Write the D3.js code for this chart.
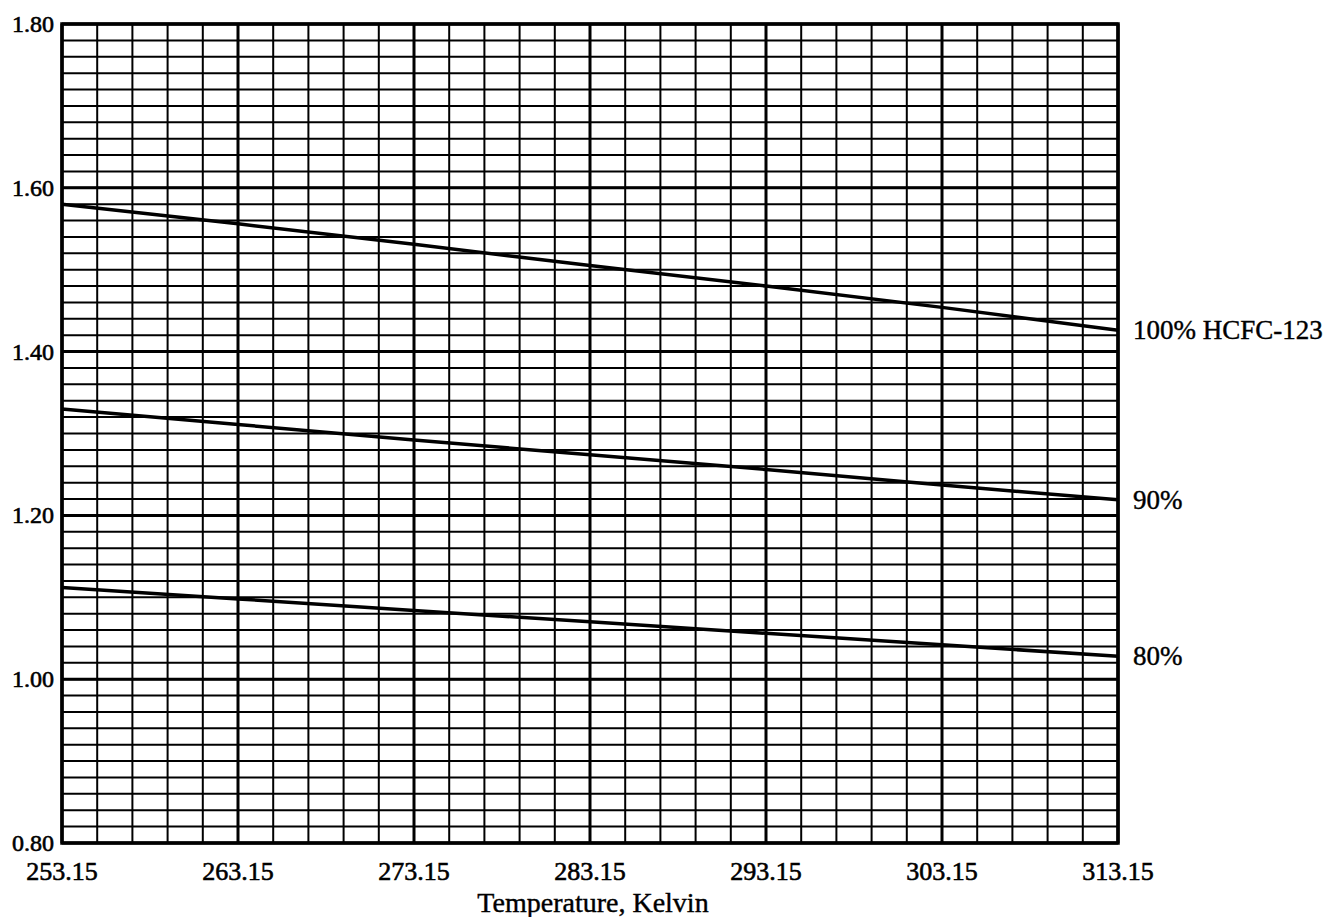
<!DOCTYPE html>
<html>
<head>
<meta charset="utf-8">
<script src="https://cdn.jsdelivr.net/npm/d3@7"></script>
<style>
  html, body { margin: 0; padding: 0; background: #fff; }
  svg { display: block; }
  text { font-family: "Liberation Serif", "DejaVu Serif", serif; fill: #000; }
</style>
</head>
<body>
<svg id="chart" width="1337" height="917"></svg>
<script>
// ---- data ----
const temperatures = [253.15, 263.15, 273.15, 283.15, 293.15, 303.15, 313.15];
const xTickLabels = ["253.15", "263.15", "273.15", "283.15", "293.15", "303.15", "313.15"];
const yTickValues = [0.80, 1.00, 1.20, 1.40, 1.60, 1.80];
const yTickLabels = ["0.80", "1.00", "1.20", "1.40", "1.60", "1.80"];
const seriesNames = ["100% HCFC-123", "90%", "80%"];
const series100 = [1.580, 1.556, 1.531, 1.505, 1.480, 1.454, 1.426];
const series90  = [1.330, 1.311, 1.292, 1.274, 1.256, 1.237, 1.219];
const series80  = [1.112, 1.098, 1.084, 1.070, 1.056, 1.042, 1.028];
const xAxisTitle = "Temperature, Kelvin";

// ---- layout ----
const svg = d3.select("#chart");
const pLeft = 62, pRight = 1118, pTop = 24, pBottom = 843;
const x = d3.scaleLinear().domain([253.15, 313.15]).range([pLeft, pRight]);
const y = d3.scaleLinear().domain([0.80, 1.80]).range([pBottom, pTop]);

const g = svg.append("g");

// minor grid: every 2 K and every 0.02
const xMinor = d3.range(0, 31).map(i => 253.15 + i * 2);
const yMinor = d3.range(0, 51).map(i => 0.80 + i * 0.02);

g.selectAll("line.vminor").data(xMinor).enter().append("line")
  .attr("x1", d => x(d)).attr("x2", d => x(d))
  .attr("y1", pTop).attr("y2", pBottom)
  .attr("stroke", "#000").attr("stroke-width", 2);

g.selectAll("line.hminor").data(yMinor).enter().append("line")
  .attr("x1", pLeft).attr("x2", pRight)
  .attr("y1", d => y(d)).attr("y2", d => y(d))
  .attr("stroke", "#000").attr("stroke-width", 2);

// major grid
g.selectAll("line.vmajor").data(temperatures).enter().append("line")
  .attr("x1", d => x(d)).attr("x2", d => x(d))
  .attr("y1", pTop).attr("y2", pBottom)
  .attr("stroke", "#000").attr("stroke-width", 3);

g.selectAll("line.hmajor").data(yTickValues).enter().append("line")
  .attr("x1", pLeft).attr("x2", pRight)
  .attr("y1", d => y(d)).attr("y2", d => y(d))
  .attr("stroke", "#000").attr("stroke-width", 3);

// border
g.append("rect")
  .attr("x", pLeft).attr("y", pTop)
  .attr("width", pRight - pLeft).attr("height", pBottom - pTop)
  .attr("fill", "none").attr("stroke", "#000").attr("stroke-width", 3.5);

// series lines
const allSeries = [series100, series90, series80];
const line = d3.line().x((d, i) => x(temperatures[i])).y(d => y(d));
g.selectAll("path.series").data(allSeries).enter().append("path")
  .attr("d", d => line(d))
  .attr("fill", "none").attr("stroke", "#000").attr("stroke-width", 3.5);

// series labels
g.selectAll("text.slabel").data(allSeries).enter().append("text")
  .attr("x", pRight + 15)
  .attr("y", d => y(d[d.length - 1]) + 9)
  .attr("font-size", 27)
  .attr("stroke", "#000").attr("stroke-width", 0.4)
  .text((d, i) => seriesNames[i]);

// y axis labels
g.selectAll("text.ytick").data(yTickValues).enter().append("text")
  .attr("x", pLeft - 8)
  .attr("y", d => y(d) + 8)
  .attr("text-anchor", "end")
  .attr("font-size", 24)
  .attr("stroke", "#000").attr("stroke-width", 0.6)
  .text((d, i) => yTickLabels[i]);

// x axis labels
g.selectAll("text.xtick").data(temperatures).enter().append("text")
  .attr("x", d => x(d))
  .attr("y", pBottom + 37)
  .attr("text-anchor", "middle")
  .attr("font-size", 26)
  .attr("stroke", "#000").attr("stroke-width", 0.6)
  .text((d, i) => xTickLabels[i]);

// axis title
svg.append("text")
  .attr("x", x(283.15) + 3)
  .attr("y", pBottom + 69)
  .attr("text-anchor", "middle")
  .attr("font-size", 28)
  .attr("stroke", "#000").attr("stroke-width", 0.4)
  .text(xAxisTitle);
</script>
</body>
</html>
